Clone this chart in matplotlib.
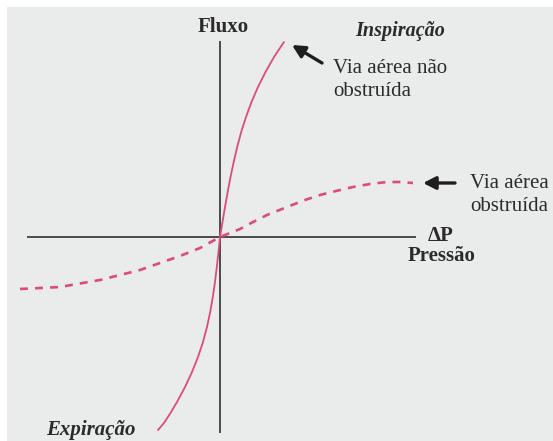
#!/usr/bin/env python

############# Required Packages ############
import matplotlib
matplotlib.use('Agg')
import matplotlib.pyplot as plt

############# DATA ############
# Unobstructed airway: pressure difference vs. airflow (arbitrary units)
open_flow     = [-19.3, -18.6, -17.6, -16.5, -15.0, -13.5, -12.0, -10.5, -9.0, -7.5,
                 -6.0, -4.5, -3.0, -1.5, 0.0, 1.5, 3.0, 4.5, 6.0, 7.5,
                 9.0, 10.5, 12.0, 13.5, 15.0, 16.5, 18.0, 19.5]
open_pressure = [-6.2, -5.6, -4.95, -4.3, -3.5, -2.8, -2.2, -1.7, -1.3, -0.98,
                 -0.72, -0.5, -0.32, -0.15, 0.0, 0.25, 0.5, 0.77, 1.05, 1.37,
                 1.72, 2.12, 2.6, 3.15, 3.8, 4.55, 5.4, 6.4]

# Obstructed airway: flow saturates at both ends
obstr_pressure = [-20.0, -16.0, -12.0, -10.0, -8.0, -6.0, -4.0, -2.0, 0.0, 2.0,
                  3.3, 4.7, 6.7, 8.5, 10.0, 12.0, 13.3, 15.0, 16.7, 18.0, 19.3]
obstr_flow     = [-5.2, -5.0, -4.3, -3.8, -3.3, -2.6, -1.9, -1.1, 0.0, 0.8,
                  1.5, 2.2, 3.0, 3.7, 4.2, 4.7, 5.0, 5.3, 5.5, 5.5, 5.4]

x_axis_span = (-19.2, 19.5)
y_axis_span = (-19.5, 19.5)

############# PLOT SETTINGS ############
plot_size      = (5.53, 4.41)
dpi            = 100
page_color     = '#ffffff'
paper_color    = '#eaeceb'
curve_color    = '#dc4a80'
axis_color     = '#4a4a4a'
text_color     = '#2b2b2b'
serif_font     = 'Liberation Serif'
label_size     = 15
note_size      = 15
xlim           = (-22.0, 33.3)
ylim           = (-20.4, 23.7)

plt.rcParams['font.family'] = serif_font

fig = plt.figure(figsize=plot_size, dpi=dpi, facecolor=page_color)
ax = fig.add_axes([7 / 553, 0, 1 - 7 / 553, 1 - 7 / 441])
ax.set_facecolor(paper_color)
ax.set_xlim(xlim[0] + 0.7, xlim[1])
ax.set_ylim(ylim[0], ylim[1] - 0.7)

# Axes crossing at the origin
for side in ('top', 'right'):
    ax.spines[side].set_visible(False)
ax.spines['left'].set_position(('data', 0))
ax.spines['bottom'].set_position(('data', 0))
ax.spines['left'].set_bounds(*y_axis_span)
ax.spines['bottom'].set_bounds(*x_axis_span)
for side in ('left', 'bottom'):
    ax.spines[side].set_color(axis_color)
    ax.spines[side].set_linewidth(1.4)
ax.set_xticks([])
ax.set_yticks([])

# Curves
ax.plot(open_pressure, open_flow, color=curve_color, lw=1.3,
        solid_capstyle='round', solid_joinstyle='round', zorder=3)
ax.plot(obstr_pressure, obstr_flow, color=curve_color, lw=1.9,
        linestyle=(0, (3.0, 2.7)), zorder=3)

# Labels
ax.text(0.3, 21.0, 'Fluxo', ha='center', va='center', fontsize=label_size,
        fontweight='bold', color=text_color)
ax.text(18.0, 20.6, 'Inspiração', ha='center', va='center', fontsize=14.5,
        fontweight='bold', style='italic', color=text_color)
ax.text(-12.9, -19.3, 'Expiração', ha='center', va='center', fontsize=label_size,
        fontweight='bold', style='italic', color=text_color)
ax.text(22.1, 0.1, 'ΔP', ha='center', va='center', fontsize=label_size,
        fontweight='bold', color=text_color)
ax.text(22.2, -1.9, 'Pressão', ha='center', va='center', fontsize=label_size,
        fontweight='bold', color=text_color)
ax.text(11.3, 15.7, 'Via aérea não\nobstruída', ha='left', va='center',
        fontsize=note_size, color=text_color, linespacing=1.3)
ax.text(25.0, 4.2, 'Via aérea\nobstruída', ha='left', va='center',
        fontsize=note_size, color=text_color, linespacing=1.25)

# Pointer arrows
arrow_style = dict(arrowstyle='-|>,head_length=0.75,head_width=0.38',
                   color='#1e1e1e', lw=2.4, shrinkA=0, shrinkB=0)
ax.annotate('', xy=(7.2, 19.2), xytext=(10.2, 17.4), arrowprops=arrow_style)
ax.annotate('', xy=(20.3, 5.4), xytext=(23.5, 5.4), arrowprops=arrow_style)

fig.savefig('out.png', dpi=dpi, facecolor=page_color)
